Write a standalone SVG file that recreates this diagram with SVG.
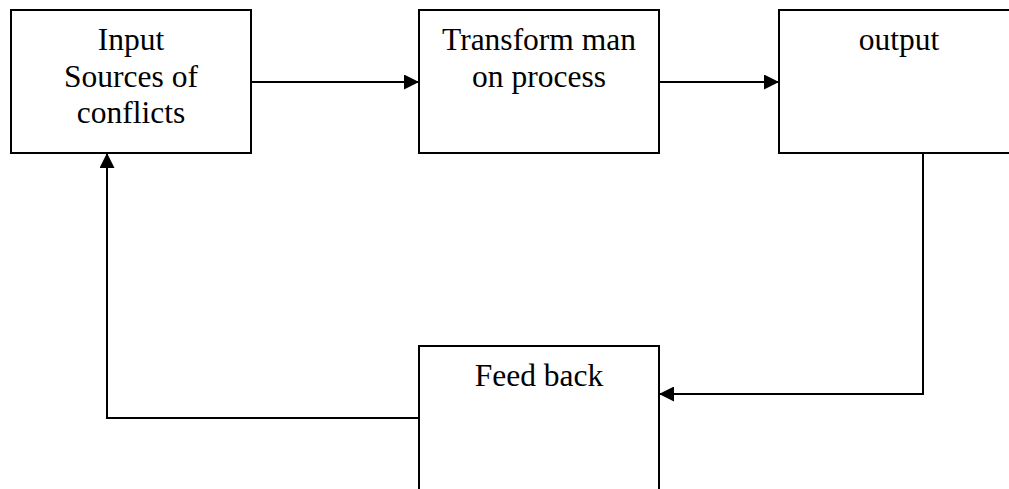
<svg xmlns="http://www.w3.org/2000/svg" width="1009" height="489" viewBox="0 0 1009 489">
<style>
.box{fill:#fff;stroke:#000;stroke-width:2}
.lbl{font-family:"Liberation Serif","Times New Roman",serif;font-size:31.5px;fill:#000;text-anchor:middle}
.con{fill:none;stroke:#000;stroke-width:2}
</style>
<defs>
<marker id="ah" markerWidth="15" markerHeight="15" refX="15" refY="7.5" orient="auto" markerUnits="userSpaceOnUse">
<path d="M0,0 L15,7.5 L0,15 Z" fill="#000"/>
</marker>
</defs>
<rect width="1009" height="489" fill="#fff"/>
<g id="input">
<rect class="box" x="11" y="10" width="240" height="143"/>
<text class="lbl" x="131" y="50">Input</text>
<text class="lbl" x="131" y="86.5">Sources of</text>
<text class="lbl" x="131" y="123">conflicts</text>
</g>
<g id="transform">
<rect class="box" x="419" y="10" width="240" height="143"/>
<text class="lbl" x="539" y="50">Transform man</text>
<text class="lbl" x="539" y="87">on process</text>
</g>
<g id="output">
<rect class="box" x="779" y="10" width="240" height="143"/>
<text class="lbl" x="899" y="50">output</text>
</g>
<g id="feedback">
<rect class="box" x="419" y="346" width="240" height="160"/>
<text class="lbl" x="539" y="386">Feed back</text>
</g>
<g id="connectors">
<path class="con" d="M251,82 H419" marker-end="url(#ah)"/>
<path class="con" d="M659,82 H779" marker-end="url(#ah)"/>
<path class="con" d="M923,153 V394 H659" marker-end="url(#ah)"/>
<path class="con" d="M419,418 H107 V153" marker-end="url(#ah)"/>
</g>
</svg>
